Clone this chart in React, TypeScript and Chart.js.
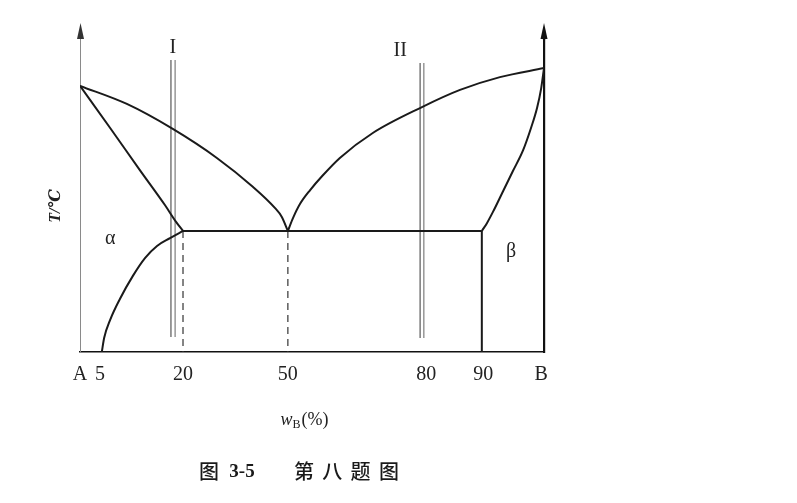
import React, { useEffect, useRef } from 'react';
import { Chart, registerables } from 'chart.js';

Chart.register(...registerables);

// x axis: drawing position 0 (A) .. 100 (B); labels as printed
const tickPositions = [0, 4.3, 22.2, 44.8, 74.6, 86.9, 99.4];
const tickLabels = ['A', '5', '20', '50', '80', '90', 'B'];

// curves: [x, y]
const liquidusLeft = [[0, 85.3], [10.1, 79.5], [20.0, 71.5], [29.5, 62.2], [37.3, 52.9], [42.0, 46.2], [43.5, 43.3], [44.8, 38.8]];
const liquidusRight = [[44.8, 38.8], [45.9, 42.9], [47.4, 47.4], [49.6, 51.9], [52.2, 56.4], [56.0, 62.2], [63.1, 70.2], [73.7, 78.5], [81.9, 84.0], [90.5, 88.1], [100, 91.0]];
const solidusLeft = [[0, 85.3], [6.5, 71.8], [12.9, 58.3], [18.3, 47.1], [20.7, 41.7], [22.2, 38.8]];
const solidusRight = [[100, 91.0], [99.4, 84.6], [98.5, 78.2], [97.2, 71.8], [95.5, 64.7], [93.3, 58.0], [91.2, 51.6], [89.0, 44.9], [87.7, 41.3], [86.6, 38.8]];
const solvusLeft = [[22.2, 38.8], [19.4, 36.5], [16.6, 34.0], [14.0, 30.1], [11.4, 24.4], [8.6, 17.0], [6.5, 10.3], [5.2, 4.5], [4.7, 0]];
const solvusRight = [[86.6, 38.8], [86.6, 0]];
const eutecticLine = [[22.2, 38.8], [86.6, 38.8]];
const dashed20 = [[22.2, 38.8], [22.2, 0]];
const dashed50 = [[44.8, 38.8], [44.8, 0]];
const alloyIa = [[19.6, 93.6], [19.6, 4.8]];
const alloyIb = [[20.5, 93.6], [20.5, 4.8]];
const alloyIIa = [[73.3, 92.6], [73.3, 4.5]];
const alloyIIb = [[74.1, 92.6], [74.1, 4.5]];

// region / alloy labels: [text, x, y]
const annotations: [string, number, number][] = [
  ['α', 6.5, 36.2],
  ['β', 92.9, 32.1],
  ['I', 20.0, 97.4],
  ['II', 69.0, 96.5],
];

const yTitle = 'T/℃';
const caption = ['图', '3-5', '第八题图'];

const serif = '"Liberation Serif", "DejaVu Serif", serif';
const cjk = '"Noto Sans CJK SC", sans-serif';

const toPts = (a: number[][]) => a.map(([x, y]) => ({ x, y }));

const overlay = {
  id: 'overlay',
  afterDraw(chart: any) {
    const { ctx, chartArea, scales } = chart;
    const xs = scales.x;
    const ys = scales.y;
    ctx.save();
    // axis arrows
    const arrow = (x: number, color: string, head: string, w: number) => {
      ctx.strokeStyle = color;
      ctx.lineWidth = w;
      ctx.beginPath();
      ctx.moveTo(x, chartArea.top);
      ctx.lineTo(x, 30);
      ctx.stroke();
      ctx.fillStyle = head;
      ctx.beginPath();
      ctx.moveTo(x, 23);
      ctx.lineTo(x - 3.5, 39);
      ctx.lineTo(x + 3.5, 39);
      ctx.closePath();
      ctx.fill();
    };
    arrow(Math.round(xs.getPixelForValue(0)) + 0.5, '#8a8a8a', '#333', 1);
    arrow(Math.round(xs.getPixelForValue(100)), '#111', '#111', 2.2);

    ctx.fillStyle = '#222';
    ctx.textAlign = 'center';
    ctx.textBaseline = 'middle';
    for (const [t, x, y] of annotations) {
      ctx.font = '20px ' + serif;
      ctx.fillText(t, xs.getPixelForValue(x), ys.getPixelForValue(y));
    }

    // y title
    ctx.save();
    ctx.translate(56, 206);
    ctx.rotate(-Math.PI / 2);
    ctx.font = 'italic bold 16px ' + serif;
    ctx.fillText(yTitle, 0, 0);
    ctx.restore();

    // x title w_B(%)
    ctx.textAlign = 'left';
    ctx.textBaseline = 'alphabetic';
    const f1 = 'italic 18px ' + serif;
    const f2 = '12px ' + serif;
    const f3 = '18px ' + serif;
    ctx.font = f1; const w1 = ctx.measureText('w').width;
    ctx.font = f2; const w2 = ctx.measureText('B').width;
    ctx.font = f3; const w3 = ctx.measureText('(%)').width;
    let sx = 304 - (w1 + w2 + w3) / 2;
    const by = 425;
    ctx.font = f1; ctx.fillText('w', sx, by); sx += w1;
    ctx.font = f2; ctx.fillText('B', sx, by + 3); sx += w2 + 1;
    ctx.font = f3; ctx.fillText('(%)', sx, by);

    // caption
    ctx.textAlign = 'center';
    ctx.textBaseline = 'middle';
    ctx.fillStyle = '#1a1a1a';
    ctx.font = '500 20px ' + cjk;
    ctx.fillText(caption[0], 209, 471);
    ctx.font = 'bold 19px ' + serif;
    ctx.fillText(caption[1], 242, 472);
    ctx.font = '500 20px ' + cjk;
    const chars = Array.from(caption[2]);
    chars.forEach((c, i) => ctx.fillText(c, 304 + i * 28.3, 471));
    ctx.restore();
  },
};

export default function App() {
  const ref = useRef<HTMLCanvasElement | null>(null);
  useEffect(() => {
    if (!ref.current) return;
    const curve = (d: number[][]) => ({
      data: toPts(d),
      showLine: true,
      borderColor: '#1a1a1a',
      borderWidth: 2,
      pointRadius: 0,
      cubicInterpolationMode: 'monotone',
      fill: false,
    });
    const line = (d: number[][], color = '#1a1a1a', width = 2, dash: number[] = []) => ({
      data: toPts(d),
      showLine: true,
      borderColor: color,
      borderWidth: width,
      borderDash: dash,
      pointRadius: 0,
      tension: 0,
      fill: false,
    });
    const chart = new Chart(ref.current, {
      type: 'scatter',
      data: {
        datasets: [
          curve(liquidusLeft),
          curve(liquidusRight),
          curve(solidusLeft),
          curve(solidusRight),
          curve(solvusLeft),
          line(solvusRight),
          line(eutecticLine),
          line(dashed20, '#333', 1.2, [7, 5]),
          line(dashed50, '#333', 1.2, [7, 5]),
          line(alloyIa, '#666', 1.3),
          line(alloyIb, '#888', 1.3),
          line(alloyIIa, '#666', 1.3),
          line(alloyIIb, '#888', 1.3),
        ] as any,
      },
      options: {
        animation: false,
        responsive: false,
        layout: { padding: { top: 40, left: 0, right: 0, bottom: 0 } },
        plugins: { legend: { display: false }, tooltip: { enabled: false } },
        scales: {
          x: {
            type: 'linear',
            position: 'bottom',
            min: 0,
            max: 100,
            grid: { display: false },
            border: { display: true, color: '#111', width: 1.6 },
            afterFit: (s: any) => { s.height = 151; },
            afterBuildTicks: (s: any) => { s.ticks = tickPositions.map((v) => ({ value: v })); },
            ticks: {
              autoSkip: false,
              maxRotation: 0,
              padding: 3,
              color: '#222',
              font: { family: serif, size: 20 },
              callback: (v: any) => {
                const i = tickPositions.indexOf(Number(v));
                return i >= 0 ? tickLabels[i] : '';
              },
            },
          },
          y: {
            type: 'linear',
            position: 'left',
            min: 0,
            max: 100,
            grid: { display: false },
            ticks: { display: false },
            border: { display: true, color: '#8a8a8a', width: 1 },
            afterFit: (s: any) => { s.width = 80; },
          },
          y2: {
            type: 'linear',
            position: 'right',
            display: true,
            min: 0,
            max: 100,
            grid: { display: false },
            ticks: { display: false },
            border: { display: true, color: '#111', width: 2.2 },
            afterFit: (s: any) => { s.width = 253; },
          },
        },
      } as any,
      plugins: [overlay],
    });
    return () => chart.destroy();
  }, []);
  return (
    <div style={{ position: 'absolute', left: 0, top: 0, width: 797, height: 503, background: '#fff' }}>
      <canvas ref={ref} width={797} height={503} style={{ display: 'block' }} />
    </div>
  );
}
